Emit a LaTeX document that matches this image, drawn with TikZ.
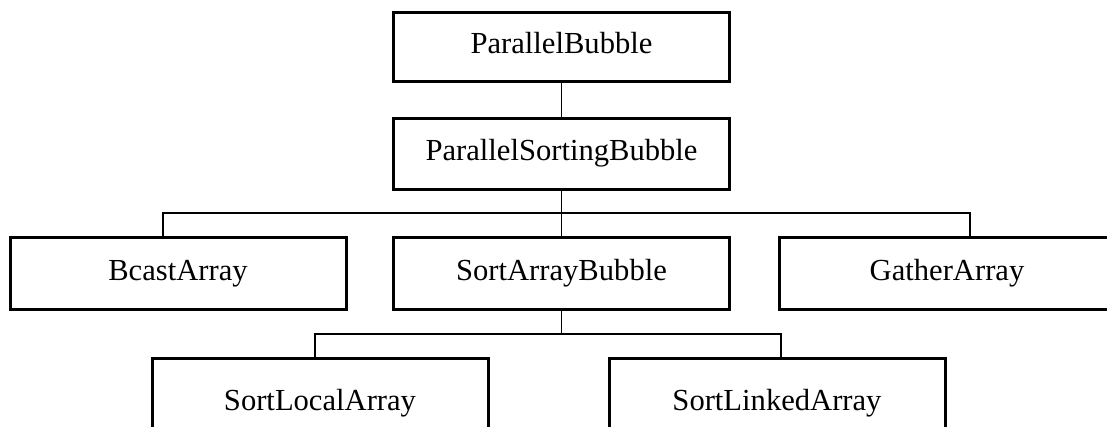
\documentclass[tikz,border=0pt]{standalone}
\usepackage{fontspec}
\setmainfont{Liberation Serif}
\usetikzlibrary{calc}
\begin{document}
\begin{tikzpicture}[x=1pt,y=-1pt,
  classbox/.style={draw, line width=3pt, minimum width=336pt, minimum height=71pt,
    inner sep=0pt, outer sep=0pt, text height=21pt, text depth=8pt,
    font=\fontsize{30.6}{36}\selectfont},
  link/.style={line width=1.3pt}]
\useasboundingbox (0,0) rectangle (1107,426);
\clip (0,0) rectangle (1107,426);

% class hierarchy boxes
\node[classbox, minimum height=69pt] (pb)     at (561.5,47)    {ParallelBubble};
\node[classbox]                     (psb)    at (561.5,153.5) {ParallelSortingBubble};
\node[classbox, minimum height=72pt] (bcast)  at (178,273.5)   {BcastArray};
\node[classbox, minimum height=72pt] (sab)    at (561.5,273.5) {SortArrayBubble};
\node[classbox, minimum height=72pt] (gather) at (947,273.5)   {GatherArray};
\node[classbox, minimum height=90pt] (local)  at (320,403.5)   {SortLocalArray};
\node[classbox, minimum height=90pt] (linked) at (777,403.5)   {SortLinkedArray};

% junction points of the tree connectors
\coordinate (j1) at ($(psb.south)+(0,24)$);
\coordinate (j2) at ($(sab.south)+(0,24.5)$);

\draw[link] (pb.south) -- (psb.north);
\draw[link] (psb.south) -- (sab.north);
\draw[link] ($(bcast.north)+(-15,0)$) |- (j1) -| ($(gather.north)+(23,0)$);
\draw[link] (sab.south) -- (j2);
\draw[link] ($(local.north)+(-5,0)$) |- (j2) -| ($(linked.north)+(4,0)$);
\end{tikzpicture}
\end{document}
